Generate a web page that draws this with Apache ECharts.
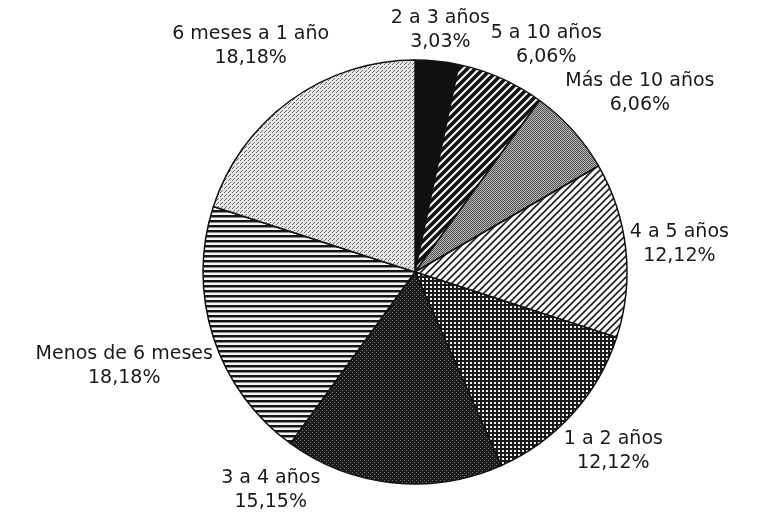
<!DOCTYPE html>
<html>
<head>
<meta charset="utf-8">
<script src="https://cdn.jsdelivr.net/npm/echarts@6/dist/echarts.min.js"></script>
<style>
  html, body { margin: 0; padding: 0; background: #fff; }
  #chart { width: 759px; height: 516px; }
</style>
</head>
<body>
<div id="chart"></div>
<script>
// Antigüedad: share of cases by duration
const categories = ['2 a 3 años', '5 a 10 años', 'Más de 10 años', '4 a 5 años',
                    '1 a 2 años', '3 a 4 años', 'Menos de 6 meses', '6 meses a 1 año'];
const values = [3.03, 6.06, 6.06, 12.12, 12.12, 15.15, 18.18, 18.18];

const W = 759, H = 516;
const CENTER = [415, 272];
const RADIUS = 212;
const FONT_SIZE = 19;
const LINE_H = 24;
const FONT = 'DejaVu Sans';

// Monochrome fill textures, one per slice
function tile(size, draw) {
  const c = document.createElement('canvas');
  c.width = size; c.height = size;
  const ctx = c.getContext('2d');
  draw(ctx, size);
  return { image: c, repeat: 'repeat' };
}
function diagonal(size, width, ink, paper) {
  return tile(size, (ctx, s) => {
    ctx.fillStyle = paper; ctx.fillRect(0, 0, s, s);
    ctx.strokeStyle = ink; ctx.lineWidth = width;
    ctx.beginPath();
    ctx.moveTo(-1, s + 1); ctx.lineTo(s + 1, -1);
    ctx.moveTo(-2, 2); ctx.lineTo(2, -2);
    ctx.moveTo(s - 2, s + 2); ctx.lineTo(s + 2, s - 2);
    ctx.stroke();
  });
}
function dots(size, base, dot, cells) {
  return tile(size, (ctx, s) => {
    ctx.fillStyle = base; ctx.fillRect(0, 0, s, s);
    ctx.fillStyle = dot;
    cells.forEach(([x, y]) => ctx.fillRect(x, y, 1, 1));
  });
}
const fills = [
  '#101010',
  diagonal(8, 3.6, '#121212', '#f6f6f6'),
  dots(2, '#b4b4b4', '#555555', [[0, 0], [1, 1]]),
  diagonal(7, 1.6, '#222222', '#f8f8f8'),
  tile(4, (ctx, s) => {
    ctx.fillStyle = '#f2f2f2'; ctx.fillRect(0, 0, s, s);
    ctx.fillStyle = '#1a1a1a'; ctx.fillRect(0, 0, s, 2); ctx.fillRect(0, 0, 2, s);
  }),
  dots(4, '#1c1c1c', '#727272', [[0, 0], [2, 2]]),
  tile(5, (ctx, s) => {
    ctx.fillStyle = '#f4f4f4'; ctx.fillRect(0, 0, s, s);
    ctx.fillStyle = '#151515'; ctx.fillRect(0, 0, s, 2);
    ctx.fillStyle = '#8a8a8a'; ctx.fillRect(0, 2, s, 1);
  }),
  dots(4, '#e6e6e6', '#6a6a6a', [[0, 0], [2, 2], [1, 3]])
];

function pct(v) { return v.toFixed(2).replace('.', ',') + '%'; }

// ---- label placement: centred just outside the rim, along each slice's mid angle ----
const measureCtx = document.createElement('canvas').getContext('2d');
measureCtx.font = FONT_SIZE + 'px "' + FONT + '"';
const halfSizes = categories.map((name, i) => [
  Math.max(measureCtx.measureText(name).width, measureCtx.measureText(pct(values[i])).width) / 2,
  LINE_H
]);

const total = values.reduce((a, b) => a + b, 0);
const midAngles = [];
values.reduce((acc, v) => { midAngles.push((acc + v / 2) / total * 360); return acc + v; }, 0);

function placeAt(deg, hw, hh) {
  const a = deg * Math.PI / 180, s = Math.sin(a), c = Math.cos(a);
  const d = RADIUS + 2 + Math.abs(s) * hw + Math.abs(c) * hh;
  const x = CENTER[0] + s * d, y = CENTER[1] - c * d;
  return { x, y, x0: x - hw, x1: x + hw, y0: y - hh, y1: y + hh };
}
function outside(b) { return b.x0 < 2 || b.x1 > W - 2 || b.y0 < 2 || b.y1 > H - 2; }
function hits(a, b) { return a.x0 < b.x1 && b.x0 < a.x1 && a.y0 < b.y1 && b.y0 < a.y1; }
// step away from the vertical axis nearest to the label
function awayFromVertical(deg) {
  const t = ((deg % 360) + 360) % 360;
  if (t > 90 && t < 270) return t >= 180 ? 1 : -1;
  return t < 180 ? 1 : -1;
}
const placed = [];
midAngles.forEach((deg, i) => {
  const [hw, hh] = halfSizes[i];
  let t = deg, box = placeAt(t, hw, hh);
  for (let k = 0; k < 400; k++) {
    if (outside(box)) t += awayFromVertical(t) * 0.5;
    else if (placed.some(p => hits(p, box))) t += 0.5;
    else break;
    box = placeAt(t, hw, hh);
  }
  placed.push(box);
});

const chart = echarts.init(document.getElementById('chart'), null, { renderer: 'canvas' });
chart.setOption({
  backgroundColor: '#ffffff',
  animation: false,
  series: [{
    type: 'pie',
    center: CENTER,
    radius: RADIUS,
    startAngle: 90,
    clockwise: true,
    avoidLabelOverlap: false,
    data: categories.map((name, i) => ({
      name: name,
      value: values[i],
      itemStyle: { color: fills[i] }
    })),
    itemStyle: { borderColor: '#111', borderWidth: 1.5 },
    label: {
      show: true,
      position: 'outside',
      formatter: p => '{n|' + p.name + '}\n{v|' + pct(p.value) + '}',
      rich: {
        n: { fontFamily: FONT, fontSize: FONT_SIZE, color: '#1a1a1a', lineHeight: LINE_H, align: 'center' },
        v: { fontFamily: FONT, fontSize: FONT_SIZE, color: '#1a1a1a', lineHeight: LINE_H, align: 'center' }
      }
    },
    labelLine: { show: false, length: 6, length2: 0 },
    labelLayout: params => ({
      x: placed[params.dataIndex].x,
      y: placed[params.dataIndex].y,
      align: 'center',
      verticalAlign: 'middle',
      hideOverlap: false
    }),
    emphasis: { disabled: true }
  }]
});
</script>
</body>
</html>
